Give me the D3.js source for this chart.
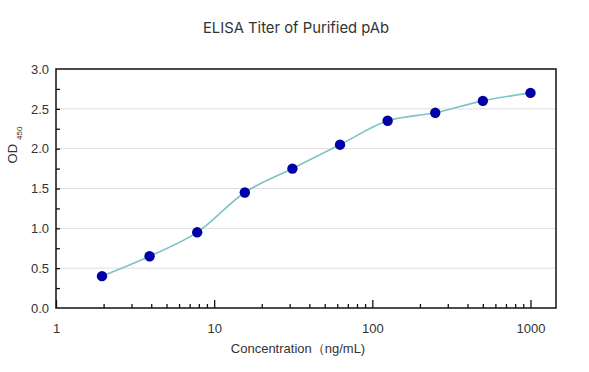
<!DOCTYPE html>
<html>
<head>
<meta charset="utf-8">
<script src="https://cdn.jsdelivr.net/npm/d3@7"></script>
<style>
  html, body { margin: 0; padding: 0; background: #fff; }
  svg { display: block; }
</style>
</head>
<body>
<svg id="chart" width="589" height="372"></svg>
<script>
const titleText = "ELISA Titer of Purified pAb";
const xLabel = "Concentration（ng/mL)";
const concentrations = [1.953, 3.906, 7.8125, 15.625, 31.25, 62.5, 125, 250, 500, 1000];
const odValues = [0.40, 0.65, 0.95, 1.45, 1.75, 2.05, 2.35, 2.45, 2.60, 2.70];
const xMajorTicks = [1, 10, 100, 1000];
const yTicks = [0, 0.5, 1.0, 1.5, 2.0, 2.5, 3.0];

const svg = d3.select("#chart");
const mLeft = 56, mRight = 556, mTop = 69, mBottom = 308;

const x = d3.scaleLog().domain([1, 1450]).range([mLeft, mRight]);
const y = d3.scaleLinear().domain([0, 3]).range([mBottom, mTop]);

// grid
svg.append("g").selectAll("line").data(yTicks.filter(d => d > 0 && d < 3)).join("line")
  .attr("x1", mLeft).attr("x2", mRight)
  .attr("y1", d => y(d)).attr("y2", d => y(d))
  .attr("stroke", "#dedede").attr("stroke-width", 1);

// minor x ticks
const minor = [];
[1, 10, 100].forEach(b => { for (let k = 2; k <= 9; k++) minor.push(b * k); });
svg.append("g").attr("transform", `translate(0,${mBottom})`)
  .call(d3.axisBottom(x).tickValues(minor).tickSizeInner(-4).tickSizeOuter(0).tickFormat(""))
  .call(g => g.select(".domain").remove())
  .call(g => g.selectAll("line").attr("stroke", "#111").attr("stroke-width", 1.3));

// major x ticks
svg.append("g").attr("transform", `translate(0,${mBottom})`)
  .call(d3.axisBottom(x).tickValues(xMajorTicks).tickSizeInner(-8).tickSizeOuter(0).tickPadding(16).tickFormat(d3.format("d")))
  .call(g => g.select(".domain").remove())
  .call(g => g.selectAll("line").attr("stroke", "#111").attr("stroke-width", 1.3))
  .call(g => g.selectAll("text").attr("font-family", "Liberation Sans, Arial, sans-serif").attr("font-size", 13).attr("fill", "#333"));

// y ticks (minor every 0.25)
const yMinor = d3.range(0.25, 3, 0.25);
svg.append("g").attr("transform", `translate(${mLeft},0)`)
  .call(d3.axisLeft(y).tickValues(yMinor).tickSizeInner(-4).tickSizeOuter(0).tickFormat(""))
  .call(g => g.select(".domain").remove())
  .call(g => g.selectAll("line").attr("stroke", "#111").attr("stroke-width", 1.3));

svg.append("g").attr("transform", `translate(${mLeft},0)`)
  .call(d3.axisLeft(y).tickValues(yTicks).tickSizeInner(0).tickSizeOuter(0).tickPadding(7).tickFormat(d3.format(".1f")))
  .call(g => g.select(".domain").remove())
  .call(g => g.selectAll("text").attr("font-family", "Liberation Sans, Arial, sans-serif").attr("font-size", 13).attr("fill", "#333"));

// frame
svg.append("rect").attr("x", mLeft).attr("y", mTop).attr("width", mRight - mLeft).attr("height", mBottom - mTop)
  .attr("fill", "none").attr("stroke", "#111").attr("stroke-width", 1.5);

// curve
const line = d3.line()
  .x((d, i) => x(concentrations[i]))
  .y(d => y(d))
  .curve(d3.curveCatmullRom.alpha(0.5));
svg.append("path").datum(odValues).attr("d", line)
  .attr("fill", "none").attr("stroke", "#7cc4c6").attr("stroke-width", 1.6);

// points
svg.append("g").selectAll("circle").data(odValues).join("circle")
  .attr("cx", (d, i) => x(concentrations[i])).attr("cy", d => y(d)).attr("r", 5.2)
  .attr("fill", "#0000a6");

// title
svg.append("text").attr("x", 296).attr("y", 33).attr("text-anchor", "middle")
  .attr("font-family", "Inter, 'Open Sans', sans-serif").attr("font-size", 14.8).attr("fill", "#333")
  .text(titleText);

// x label
svg.append("text").attr("x", 298).attr("y", 353).attr("text-anchor", "middle")
  .attr("font-family", "Liberation Sans, Arial, sans-serif").attr("font-size", 13).attr("fill", "#333")
  .text(xLabel);

// y label
const yl = svg.append("text").attr("transform", "translate(17,145) rotate(-90)").attr("text-anchor", "middle")
  .attr("font-family", "Liberation Sans, Arial, sans-serif").attr("font-size", 13).attr("fill", "#333");
yl.append("tspan").text("OD");
yl.append("tspan").attr("dx", 4).attr("dy", 5).attr("font-size", 8).text("450");
</script>
</body>
</html>
